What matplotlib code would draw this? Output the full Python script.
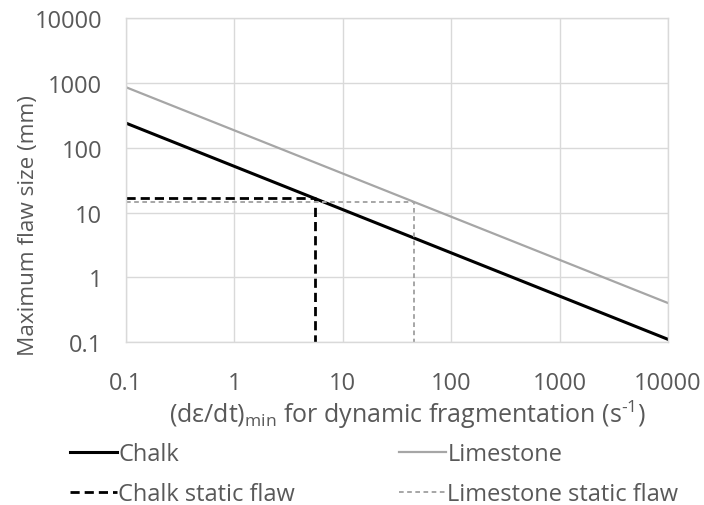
import matplotlib
matplotlib.use("Agg")
import matplotlib.pyplot as plt

# data
rate = [0.1, 10000]
chalk = [240, 0.11]
limestone = [860, 0.40]

chalk_flaw_rate = 5.5
chalk_flaw_size = 16.5
lime_flaw_rate = 45
lime_flaw_size = 14.8

ticks = [0.1, 1, 10, 100, 1000, 10000]
tick_labels = ["0.1", "1", "10", "100", "1000", "10000"]

plt.rcParams['font.family'] = ['Open Sans', 'DejaVu Sans']
plt.rcParams['mathtext.fontset'] = 'custom'
plt.rcParams['mathtext.rm'] = 'Open Sans'
plt.rcParams['mathtext.it'] = 'Open Sans'

text_col = '#595959'
grid_col = '#d9d9d9'

fig = plt.figure(figsize=(7.04, 5.06), dpi=100)
ax = fig.add_axes([0.179, 0.322, 0.770, 0.640])

l_chalk, = ax.plot(rate, chalk, color='black', lw=2.2, label='Chalk')
l_lime, = ax.plot(rate, limestone, color='#a6a6a6', lw=1.6, label='Limestone')
l_cs, = ax.plot([rate[0], chalk_flaw_rate, chalk_flaw_rate], [chalk_flaw_size, chalk_flaw_size, ticks[0]],
                color='black', lw=2.0, dashes=(3.3, 1.8), label='Chalk static flaw')
l_ls, = ax.plot([rate[0], lime_flaw_rate, lime_flaw_rate], [lime_flaw_size, lime_flaw_size, ticks[0]],
                color='#a6a6a6', lw=1.4, dashes=(2.4, 1.8), label='Limestone static flaw')

ax.set_xscale('log')
ax.set_yscale('log')
ax.set_xlim(0.1, 10000)
ax.set_ylim(0.1, 10000)
ax.set_xticks(ticks)
ax.set_xticklabels(tick_labels)
ax.set_yticks(ticks)
ax.set_yticklabels(tick_labels)
ax.minorticks_off()
ax.tick_params(length=0, labelsize=17, labelcolor=text_col)
ax.tick_params(axis='x', pad=21)
ax.tick_params(axis='y', pad=17)
ax.grid(True, color=grid_col, lw=1)
ax.set_axisbelow(True)
for s in ax.spines.values():
    s.set_color(grid_col)
    s.set_linewidth(1)

ax.set_ylabel('Maximum flaw size (mm)', fontsize=16.2, color=text_col)
ax.yaxis.set_label_coords(-0.16, 0.364)
ax.set_xlabel(r'(d$\varepsilon$/dt)$_{\mathrm{min}}$ for dynamic fragmentation (s$^{\text{-1}}$)',
              fontsize=18, color=text_col)
ax.xaxis.set_label_coords(0.52, -0.17)

handles = [l_chalk, l_cs, l_lime, l_ls]
leg = fig.legend(handles=handles, loc='upper left', bbox_to_anchor=(0.0824, 0.148), ncol=2,
                 frameon=False, borderpad=0, fontsize=17, handlelength=2.0, handletextpad=0.05,
                 columnspacing=4.4, labelspacing=0.7)
for t in leg.get_texts():
    t.set_color(text_col)

fig.savefig('out.png', dpi=100)
